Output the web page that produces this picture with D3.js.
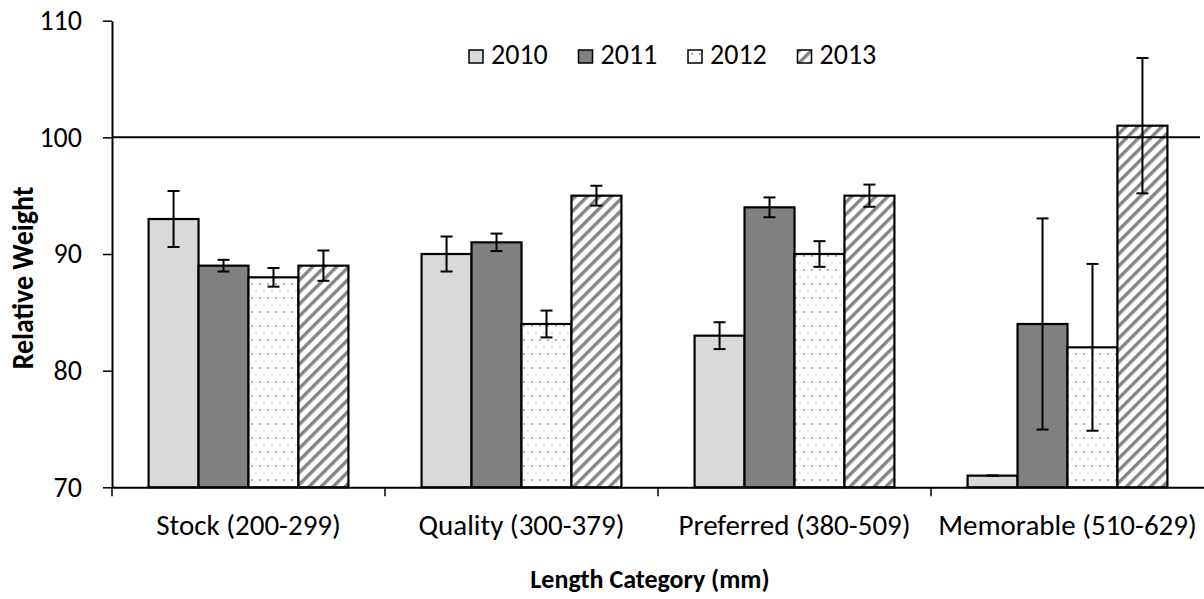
<!DOCTYPE html>
<html>
<head>
<meta charset="utf-8">
<script src="https://cdn.jsdelivr.net/npm/d3@7"></script>
<style>
  body { margin: 0; background: #fff; }
  svg { display: block; }
  text { font-family: Carlito, Calibri, Lato, sans-serif; fill: #000; }
</style>
</head>
<body>
<svg id="chart" width="1204" height="599"></svg>
<script>
// Relative weight by length category and year (mean with error bars)
const categories = ["Stock (200-299)", "Quality (300-379)", "Preferred (380-509)", "Memorable (510-629)"];
const years = ["2010", "2011", "2012", "2013"];
const rw2010 = [93, 90, 83, 71];
const rw2011 = [89, 91, 94, 84];
const rw2012 = [88, 84, 90, 82];
const rw2013 = [89, 95, 95, 101];
const err2010 = [2.4, 1.5, 1.15, 0];
const err2011 = [0.5, 0.75, 0.85, 9.05];
const err2012 = [0.8, 1.15, 1.1, 7.15];
const err2013 = [1.3, 0.85, 0.95, 5.8];
const yTicks = [70, 80, 90, 100, 110];
const referenceValue = 100;

const seriesValues = [rw2010, rw2011, rw2012, rw2013];
const seriesErrors = [err2010, err2011, err2012, err2013];

const rows = [];
categories.forEach((c, ci) => {
  years.forEach((yr, si) => {
    rows.push({ category: c, year: yr, value: seriesValues[si][ci], err: seriesErrors[si][ci] });
  });
});

const svg = d3.select("#chart");
const plotLeft = 112, plotRight = 1204, plotTop = 20.7, plotBottom = 487.3;

const y = d3.scaleLinear().domain([70, 110]).range([plotBottom, plotTop]);
const x0 = d3.scaleBand().domain(categories).range([plotLeft, plotRight])
  .paddingInner(0.268).paddingOuter(0.134);
const x1 = d3.scaleBand().domain(years).range([0, x0.bandwidth()]);

// fill patterns
const defs = svg.append("defs");
const dots = defs.append("pattern").attr("id", "dots")
  .attr("patternUnits", "userSpaceOnUse").attr("width", 8).attr("height", 14);
dots.append("rect").attr("width", 8).attr("height", 14).attr("fill", "#fff");
dots.append("circle").attr("cx", 4).attr("cy", 4).attr("r", 1).attr("fill", "#999");
dots.append("circle").attr("cx", 0).attr("cy", 11).attr("r", 0.8).attr("fill", "#bbb");
dots.append("circle").attr("cx", 8).attr("cy", 11).attr("r", 0.8).attr("fill", "#bbb");

const stripes = defs.append("pattern").attr("id", "stripes")
  .attr("patternUnits", "userSpaceOnUse").attr("width", 8.5).attr("height", 8.5)
  .attr("patternTransform", "rotate(45)");
stripes.append("rect").attr("width", 8.5).attr("height", 8.5).attr("fill", "#fff");
stripes.append("rect").attr("x", 0).attr("width", 3.4).attr("height", 8.5).attr("fill", "#858585");

const fills = { "2010": "#d9d9d9", "2011": "#808080", "2012": "url(#dots)", "2013": "url(#stripes)" };

// bars
svg.append("g").selectAll("rect").data(rows).join("rect")
  .attr("x", d => x0(d.category) + x1(d.year))
  .attr("y", d => y(d.value))
  .attr("width", x1.bandwidth())
  .attr("height", d => y(70) - y(d.value))
  .attr("fill", d => fills[d.year])
  .attr("stroke", "#000")
  .attr("stroke-width", 2.2);

// reference line at 100
svg.append("line")
  .attr("x1", plotLeft).attr("x2", 1200)
  .attr("y1", y(referenceValue)).attr("y2", y(referenceValue))
  .attr("stroke", "#000").attr("stroke-width", 2);

// error bars
const eb = svg.append("g").attr("stroke", "#000").attr("stroke-width", 2);
rows.forEach(d => {
  const cx = x0(d.category) + x1(d.year) + x1.bandwidth() / 2;
  const hi = y(d.value + d.err), lo = y(d.value - d.err);
  if (d.err > 0) eb.append("line").attr("x1", cx).attr("x2", cx).attr("y1", hi).attr("y2", lo);
  eb.append("line").attr("x1", cx - 6).attr("x2", cx + 6).attr("y1", hi).attr("y2", hi);
  eb.append("line").attr("x1", cx - 6).attr("x2", cx + 6).attr("y1", lo).attr("y2", lo);
});

// y axis
const yAxis = svg.append("g").attr("transform", `translate(${plotLeft},0)`)
  .call(d3.axisLeft(y).tickValues(yTicks).tickSize(9).tickSizeOuter(0).tickPadding(21));
yAxis.select(".domain").attr("stroke-width", 2);
yAxis.selectAll(".tick line").attr("stroke-width", 1.5);
yAxis.selectAll(".tick text").attr("font-size", 28).attr("font-family", null);

// x axis: labels centred on categories, ticks at category boundaries
const xAxis = svg.append("g").attr("transform", `translate(0,${plotBottom})`)
  .call(d3.axisBottom(x0).tickSize(0).tickSizeOuter(0).tickPadding(27));
xAxis.select(".domain").attr("stroke-width", 2);
xAxis.selectAll(".tick text").attr("font-size", 29).attr("font-family", null);
const gap = (x0.step() - x0.bandwidth()) / 2;
svg.append("g").selectAll("line").data(categories).join("line")
  .attr("x1", d => x0(d) - gap).attr("x2", d => x0(d) - gap)
  .attr("y1", plotBottom).attr("y2", plotBottom + 9)
  .attr("stroke", "#000").attr("stroke-width", 1.5);

// axis titles
svg.append("text")
  .attr("transform", `translate(33,278) rotate(-90) scale(1,1.1)`)
  .attr("text-anchor", "middle")
  .attr("font-size", 28).attr("font-weight", "bold")
  .text("Relative Weight");
svg.append("text")
  .attr("x", 650).attr("y", 588)
  .attr("text-anchor", "middle")
  .attr("font-size", 26).attr("font-weight", "bold")
  .text("Length Category (mm)");

// legend
const legend = svg.append("g").selectAll("g").data(years).join("g")
  .attr("transform", (d, i) => `translate(${469 + i * 109.5},50)`);
legend.append("rect")
  .attr("width", 14).attr("height", 13)
  .attr("fill", d => fills[d]).attr("stroke", "#000").attr("stroke-width", 1.5);
legend.append("text")
  .attr("x", 22).attr("y", 14)
  .attr("font-size", 28)
  .text(d => d);
</script>
</body>
</html>
